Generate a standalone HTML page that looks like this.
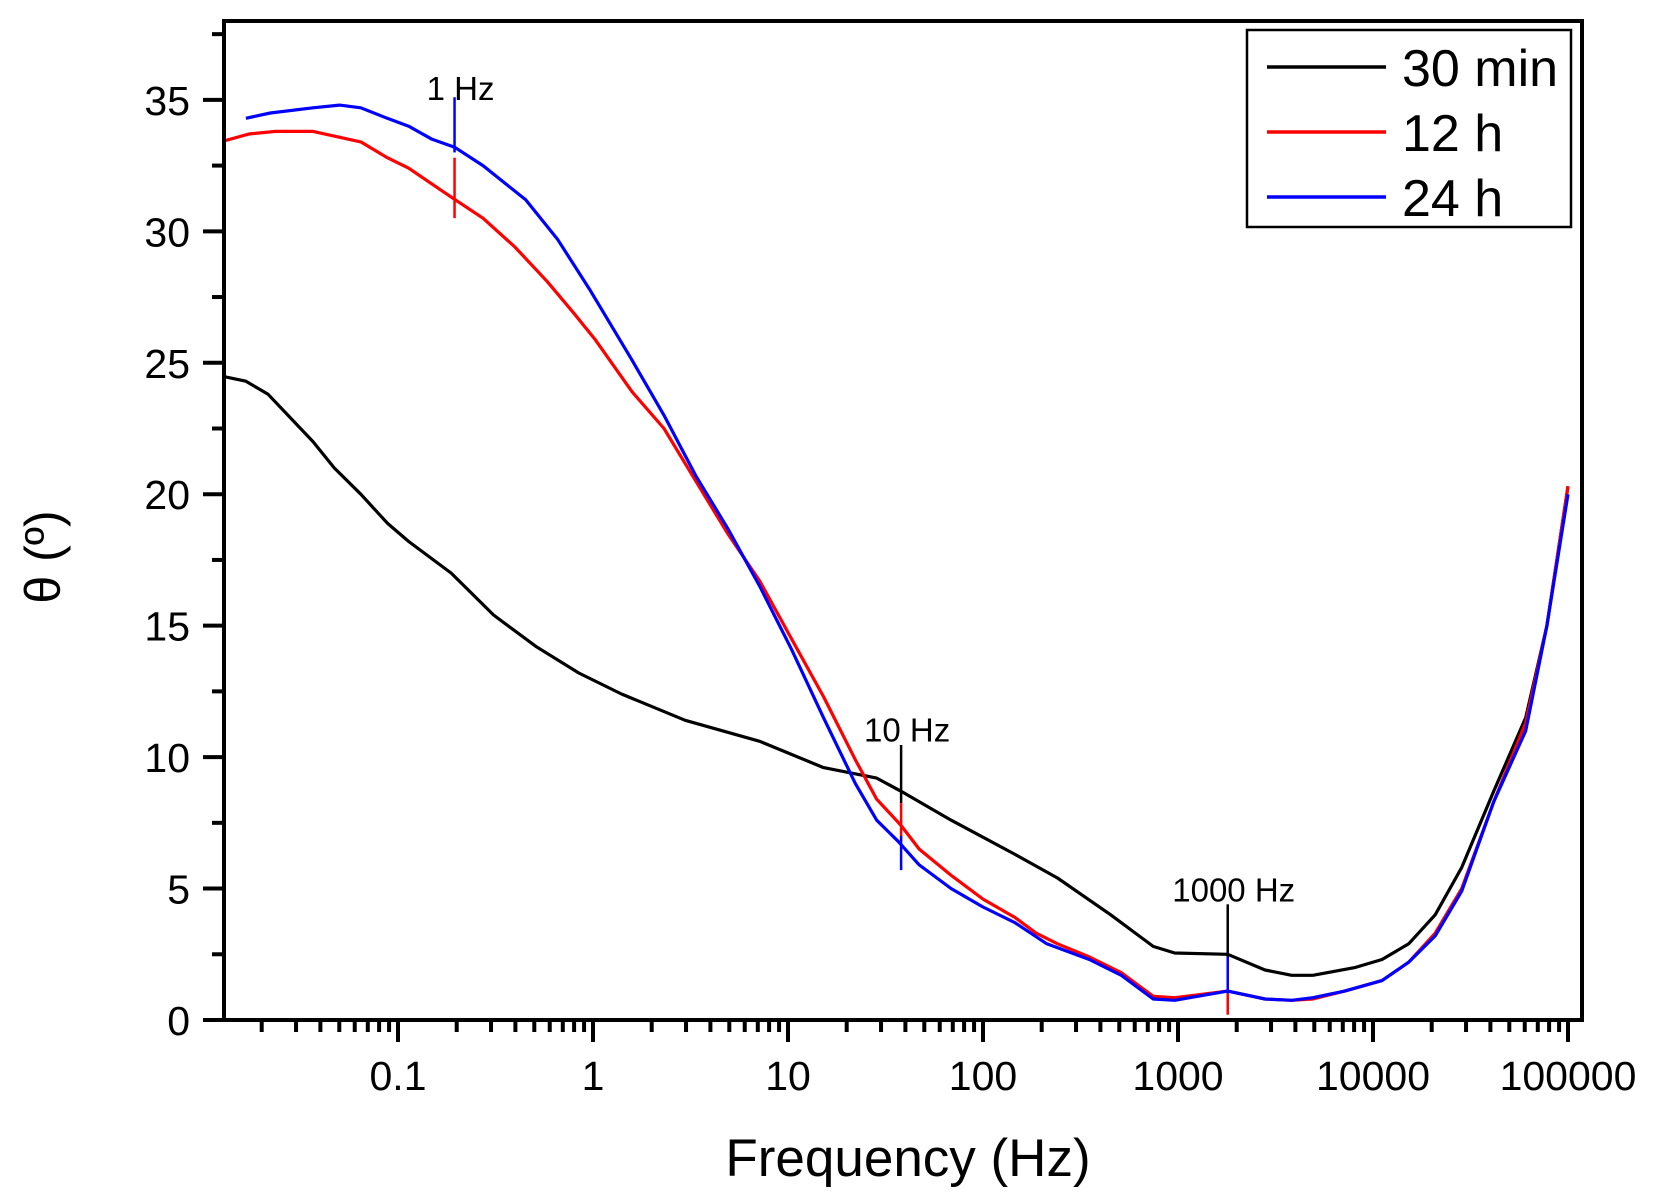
<!DOCTYPE html>
<html><head><meta charset="utf-8"><style>
html,body{margin:0;padding:0;background:#fff}
svg{display:block;font-family:"Liberation Sans",Arial,sans-serif}
</style></head><body>
<svg id="chart" width="1656" height="1203" viewBox="0 0 1656 1203">
<g id="plot"></g>
</svg>
<script>
// data (log10 of frequency in Hz, phase angle in degrees)
const xMajorTicks = [0.1, 1, 10, 100, 1000, 10000, 100000];
const xTickLabels = ["0.1", "1", "10", "100", "1000", "10000", "100000"];
const yMajorTicks = [0, 5, 10, 15, 20, 25, 30, 35];
const seriesNames = ["30 min", "12 h", "24 h"];
const seriesColors = ["#000000", "#ff0000", "#0000ff"];
const logF30 = [-1.911,-1.78,-1.666,-1.436,-1.327,-1.191,-1.055,-0.945,-0.727,-0.509,-0.291,-0.073,0.146,0.473,0.855,1.182,1.455,1.58,1.837,2.164,2.382,2.655,2.873,2.983,3.255,3.446,3.583,3.692,3.91,4.046,4.183,4.319,4.455,4.619,4.783,4.892,5.0];
const theta30 = [24.5,24.3,23.8,22.0,21.0,20.0,18.9,18.2,17.0,15.4,14.2,13.2,12.4,11.4,10.6,9.6,9.2,8.7,7.6,6.3,5.4,4.0,2.8,2.55,2.5,1.9,1.7,1.7,2.0,2.3,2.9,4.0,5.8,8.7,11.5,15.0,20.3];
const logF12 = [-1.911,-1.764,-1.627,-1.436,-1.191,-1.055,-0.945,-0.727,-0.564,-0.4,-0.236,-0.1,0.009,0.2,0.364,0.527,0.691,0.855,1.018,1.182,1.345,1.455,1.58,1.673,1.837,2.0,2.164,2.273,2.382,2.545,2.709,2.873,2.983,3.255,3.446,3.583,3.692,3.855,4.046,4.183,4.319,4.455,4.619,4.783,4.892,5.0];
const theta12 = [33.4,33.7,33.8,33.8,33.4,32.8,32.4,31.3,30.5,29.4,28.1,26.9,25.9,23.9,22.5,20.5,18.5,16.7,14.5,12.3,9.9,8.4,7.4,6.5,5.5,4.6,3.9,3.3,2.9,2.4,1.8,0.9,0.85,1.1,0.8,0.75,0.8,1.1,1.5,2.2,3.3,5.0,8.3,11.3,15.0,20.3];
const logF24 = [-1.78,-1.655,-1.436,-1.3,-1.191,-1.055,-0.945,-0.825,-0.71,-0.564,-0.345,-0.182,-0.018,0.2,0.364,0.527,0.691,0.855,1.018,1.182,1.345,1.455,1.564,1.673,1.837,2.0,2.164,2.327,2.545,2.709,2.873,2.983,3.255,3.446,3.583,3.692,3.855,4.046,4.183,4.319,4.455,4.619,4.783,4.892,5.0];
const theta24 = [34.3,34.5,34.7,34.8,34.7,34.3,34.0,33.5,33.2,32.5,31.2,29.7,27.8,25.1,23.0,20.7,18.7,16.5,14.1,11.5,9.0,7.6,6.8,5.9,5.0,4.3,3.7,2.9,2.3,1.7,0.8,0.75,1.1,0.8,0.75,0.85,1.1,1.5,2.2,3.2,4.9,8.3,11.0,15.0,20.0];
const markerLabels = ["1 Hz", "10 Hz", "1000 Hz"];
const markerLogF = [-0.71, 1.58, 3.255];
// per marker: segments [seriesIndex, top, bottom]
const markerSegs = [[[2,35.1,33.0],[1,32.8,30.5]], [[0,10.46,8.25],[1,8.25,7.0],[2,7.0,5.7]], [[0,4.4,2.4],[2,2.4,1.0],[1,1.0,0.2]]];
const markerLabelY = [35.0, 10.6, 4.5];

const L=224,R=1582,T=21,B=1020;
const X0=398,DEC=195;
function xs(lg){return X0+(lg+1)*DEC;}
function ys(v){return B-(B-T)*v/38;}
const NS="http://www.w3.org/2000/svg";
const svg=document.getElementById('chart');
function mk(tag,attrs,parent){const e=document.createElementNS(NS,tag);for(const k in attrs)e.setAttribute(k,attrs[k]);(parent||svg).appendChild(e);return e;}

const plot=document.getElementById('plot');
const cp=mk('clipPath',{id:'clip'});
mk('rect',{x:L,y:T,width:R-L,height:B-T},cp);

const series=[[logF30,theta30],[logF12,theta12],[logF24,theta24]];
series.forEach((s,i)=>{
  const d=s[0].map((lg,j)=>(j?'L':'M')+xs(lg).toFixed(1)+' '+ys(s[1][j]).toFixed(1)).join(' ');
  const p=mk('path',{d:d,fill:'none',stroke:seriesColors[i],'stroke-width':3.2,'stroke-linejoin':'round','clip-path':'url(#clip)'},plot);
  
  
});

markerLogF.forEach((lg,m)=>{
  markerSegs[m].forEach(sg=>{
    const l=mk('line',{x1:xs(lg),x2:xs(lg),y1:ys(sg[1]),y2:ys(sg[2]),stroke:seriesColors[sg[0]],'stroke-width':2.5},plot);
    
    
  });
  const t=mk('text',{x:xs(lg)+6,y:ys(markerLabelY[m]),'font-size':33,'text-anchor':'middle',fill:'#000'},plot);
  t.textContent=markerLabels[m];
  
  
});

// axes frame
const fr=mk('rect',{x:L,y:T,width:R-L,height:B-T,fill:'none',stroke:'#000','stroke-width':4});



// y ticks
for(let v=0;v<=37.5;v+=2.5){
  const major=v%5===0;
  const t=mk('line',{x1:L-(major?21:12),x2:L,y1:ys(v),y2:ys(v),stroke:'#000','stroke-width':4});
  
  
}
yMajorTicks.forEach(v=>{
  const t=mk('text',{x:190,y:ys(v)+15,'font-size':41,'text-anchor':'end'});
  t.textContent=v;
  
  
});
// x ticks
for(let dec=-2;dec<=5;dec++){
  for(let k=1;k<=9;k++){
    const lg=dec+Math.log10(k);
    const x=xs(lg);
    if(x<L+2||x>R-2)continue;
    const t=mk('line',{x1:x,x2:x,y1:B,y2:B+(k===1?22:12),stroke:'#000','stroke-width':4});
    
    
  }
}
xMajorTicks.forEach((f,i)=>{
  const t=mk('text',{x:xs(Math.log10(f)),y:1090,'font-size':41,'text-anchor':'middle'});
  t.textContent=xTickLabels[i];
  
  
});
const xt=mk('text',{x:908,y:1176,'font-size':53,'text-anchor':'middle'});
xt.textContent='Frequency (Hz)';


const yt=mk('text',{x:0,y:0,'font-size':50,'text-anchor':'middle',transform:'translate(60,557) rotate(-90)'});
yt.textContent='θ (º)';



// legend
const lg=mk('g',{});


mk('rect',{x:1247,y:30,width:324,height:197,fill:'#fff',stroke:'#000','stroke-width':2.5},lg);
seriesNames.forEach((n,i)=>{
  const y=67+65*i;
  const e=mk('g',{},lg);
  
  
  mk('line',{x1:1267,x2:1386,y1:y,y2:y,stroke:seriesColors[i],'stroke-width':3.5},e);
  const t=mk('text',{x:1402,y:y+19,'font-size':52},e);
  t.textContent=n;
});
</script>
</body></html>
